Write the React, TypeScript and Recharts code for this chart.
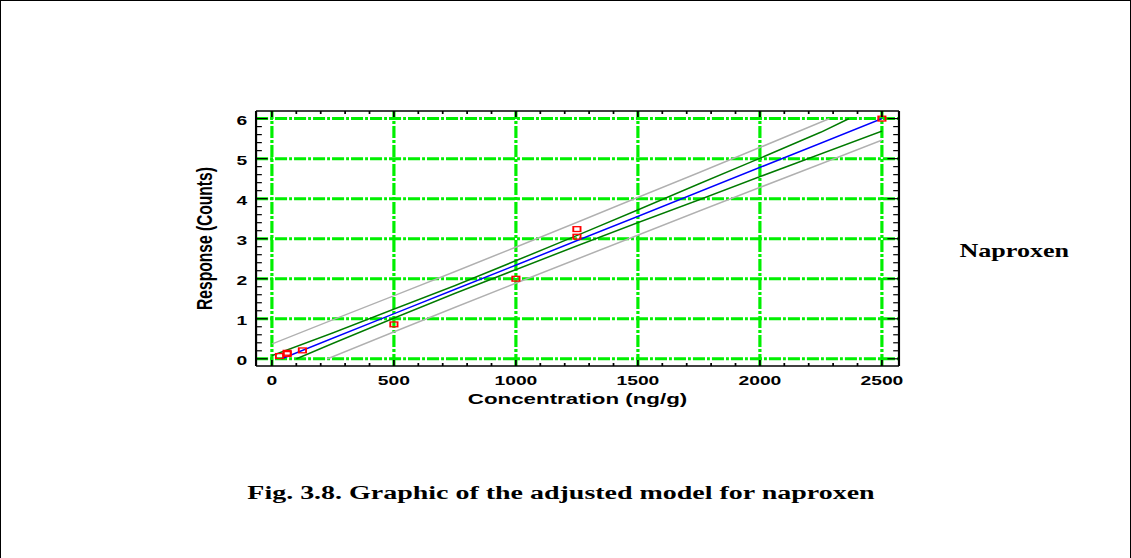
import React from 'react';
import { ComposedChart, Line, Scatter, XAxis, YAxis, ReferenceLine } from 'recharts';

// Calibration standards: concentration (ng/g) and measured response (counts)
const concentration = [31.25, 62.5, 62.5, 125, 500, 1000, 1250, 1250, 2500];
const response = [0.07, 0.12, 0.15, 0.21, 0.86, 2.0, 3.24, 3.05, 6.0];

// Fitted model line
const fitX = [39, 250, 500, 750, 1000, 1250, 1500, 1750, 2000, 2250, 2500];
const fitY = [0, 0.515, 1.125, 1.734, 2.34, 2.95, 3.56, 4.17, 4.78, 5.39, 6.0];

// Confidence limits for the mean response
const confUpperX = [0, 250, 500, 750, 1000, 1250, 1500, 1750, 2000, 2250, 2365];
const confUpperY = [0.08, 0.65, 1.24, 1.83, 2.45, 3.08, 3.72, 4.37, 5.01, 5.66, 6.0];
const confLowerX = [100, 250, 500, 750, 1000, 1250, 1500, 1750, 2000, 2250, 2500];
const confLowerY = [0, 0.385, 1.015, 1.634, 2.23, 2.82, 3.4, 3.97, 4.55, 5.12, 5.69];

// Prediction limits
const predUpperX = [0, 250, 500, 750, 1000, 1250, 1500, 1750, 2000, 2250, 2285];
const predUpperY = [0.37, 0.975, 1.575, 2.18, 2.79, 3.41, 4.03, 4.65, 5.28, 5.91, 6.0];
const predLowerX = [227, 250, 500, 750, 1000, 1250, 1500, 1750, 2000, 2250, 2500];
const predLowerY = [0, 0.055, 0.675, 1.284, 1.89, 2.49, 3.09, 3.69, 4.28, 4.87, 5.46];

// Axis ticks
const xMajorTicks = [0, 500, 1000, 1500, 2000, 2500];
const yMajorTicks = [0, 1, 2, 3, 4, 5, 6];
const xTicks = [
  0, 100, 200, 300, 400, 500, 600, 700, 800, 900, 1000, 1100, 1200, 1300, 1400,
  1500, 1600, 1700, 1800, 1900, 2000, 2100, 2200, 2300, 2400, 2500,
];
const yTicks = [
  0, 0.2, 0.4, 0.6, 0.8, 1, 1.2, 1.4, 1.6, 1.8, 2, 2.2, 2.4, 2.6, 2.8, 3, 3.2, 3.4,
  3.6, 3.8, 4, 4.2, 4.4, 4.6, 4.8, 5, 5.2, 5.4, 5.6, 5.8, 6,
];

const X_DOMAIN: [number, number] = [-65, 2570];
const Y_DOMAIN: [number, number] = [-0.18, 6.19];

const toPoints = (xs: number[], ys: number[]) => xs.map((x, i) => ({ x, y: ys[i] }));

const observed = toPoints(concentration, response);
const fit = toPoints(fitX, fitY);
const confUpper = toPoints(confUpperX, confUpperY);
const confLower = toPoints(confLowerX, confLowerY);
const predUpper = toPoints(predUpperX, predUpperY);
const predLower = toPoints(predLowerX, predLowerY);

// The figure is laid out on a narrower canvas and stretched horizontally
const STRETCH = 1.45;
const BASE_W = 1131 / STRETCH;
const H = 558;

const axisFont = "'Liberation Sans', Arial, Helvetica, sans-serif";
const serifFont = "'Liberation Serif', 'Times New Roman', serif";

const isMajorX = (v: number) => xMajorTicks.includes(v);
const isMajorY = (v: number) => yMajorTicks.some((m) => Math.abs(m - v) < 1e-6);

const BottomTick = (props: any) => {
  const { x, y, payload } = props;
  const v = payload.value;
  const major = isMajorX(v);
  return (
    <g>
      <line x1={x} x2={x} y1={y} y2={y - (major ? 6 : 3)} stroke="#000" strokeWidth={1.2} />
      {major && (
        <text x={x} y={y + 19} textAnchor="middle" fontFamily={axisFont} fontWeight="bold" fontSize={13.3} fill="#000">
          {v}
        </text>
      )}
    </g>
  );
};

const TopTick = (props: any) => {
  const { x, y, payload } = props;
  const major = isMajorX(payload.value);
  return <line x1={x} x2={x} y1={y} y2={y + (major ? 6 : 3)} stroke="#000" strokeWidth={1.2} />;
};

const LeftTick = (props: any) => {
  const { x, y, payload } = props;
  const v = payload.value;
  const major = isMajorY(v);
  return (
    <g>
      <line x1={x} x2={x + (major ? 8 : 4)} y1={y} y2={y} stroke="#000" strokeWidth={1.2} />
      {major && (
        <text x={x - 6} y={y + 6} textAnchor="end" fontFamily={axisFont} fontWeight="bold" fontSize={13.3} fill="#000">
          {Math.round(v)}
        </text>
      )}
    </g>
  );
};

const RightTick = (props: any) => {
  const { x, y, payload } = props;
  const major = isMajorY(payload.value);
  return <line x1={x} x2={x - (major ? 8 : 4)} y1={y} y2={y} stroke="#000" strokeWidth={1.2} />;
};

const RedSquare = (props: any) => {
  const { cx, cy } = props;
  if (cx == null || cy == null) return null;
  return <rect x={cx - 2.5} y={cy - 2.4} width={5} height={4.8} fill="none" stroke="#ff0000" strokeWidth={1.3} />;
};

const GRID_GREEN = '#00f000';

export default function App() {
  return (
    <div
      style={{
        position: 'absolute',
        left: 0,
        top: 0,
        width: 1131,
        height: H,
        boxSizing: 'border-box',
        borderLeft: '1px solid #000',
        borderTop: '1px solid #000',
        borderRight: '1px solid #000',
        background: '#fff',
        overflow: 'hidden',
      }}
    >
      <div
        style={{
          position: 'absolute',
          left: 0,
          top: 0,
          width: BASE_W,
          height: H,
          transform: `scaleX(${STRETCH})`,
          transformOrigin: '0 0',
        }}
      >
        <ComposedChart
          width={BASE_W}
          height={H}
          margin={{ top: 100, right: 150.7, bottom: 163, left: 135.9 }}
        >
          <XAxis
            dataKey="x"
            type="number"
            domain={X_DOMAIN}
            allowDataOverflow
            ticks={xTicks}
            interval={0}
            tickSize={0}
            tickMargin={0}
            tickLine={false}
            axisLine={{ stroke: '#000', strokeWidth: 1.5 }}
            height={30}
            tick={<BottomTick />}
          />
          <XAxis
            xAxisId="top"
            orientation="top"
            dataKey="x"
            type="number"
            domain={X_DOMAIN}
            allowDataOverflow
            ticks={xTicks}
            interval={0}
            tickSize={0}
            tickMargin={0}
            tickLine={false}
            axisLine={{ stroke: '#000', strokeWidth: 1.3 }}
            height={10}
            tick={<TopTick />}
          />
          <YAxis
            dataKey="y"
            type="number"
            domain={Y_DOMAIN}
            allowDataOverflow
            ticks={yTicks}
            interval={0}
            tickSize={0}
            tickMargin={0}
            tickLine={false}
            axisLine={{ stroke: '#000', strokeWidth: 1.5 }}
            width={40}
            tick={<LeftTick />}
          />
          <YAxis
            yAxisId="right"
            orientation="right"
            dataKey="y"
            type="number"
            domain={Y_DOMAIN}
            allowDataOverflow
            ticks={yTicks}
            interval={0}
            tickSize={0}
            tickMargin={0}
            tickLine={false}
            axisLine={{ stroke: '#000', strokeWidth: 1.5 }}
            width={10}
            tick={<RightTick />}
          />

          {yMajorTicks.map((v) => (
            <ReferenceLine
              key={`h${v}`}
              y={v}
              stroke={GRID_GREEN}
              strokeWidth={3}
              strokeDasharray="8.3 1.4 2 1.4"
            />
          ))}
          {xMajorTicks.map((v) => (
            <ReferenceLine
              key={`v${v}`}
              x={v}
              stroke={GRID_GREEN}
              strokeWidth={2.2}
              strokeDasharray="12 2 3 2"
            />
          ))}

          <Line data={predUpper} dataKey="y" type="linear" stroke="#b0b0b0" strokeWidth={1.4} dot={false} activeDot={false} isAnimationActive={false} />
          <Line data={predLower} dataKey="y" type="linear" stroke="#b0b0b0" strokeWidth={1.4} dot={false} activeDot={false} isAnimationActive={false} />
          <Line data={confUpper} dataKey="y" type="linear" stroke="#007a00" strokeWidth={1.4} dot={false} activeDot={false} isAnimationActive={false} />
          <Line data={confLower} dataKey="y" type="linear" stroke="#007a00" strokeWidth={1.4} dot={false} activeDot={false} isAnimationActive={false} />
          <Line data={fit} dataKey="y" type="linear" stroke="#0000ff" strokeWidth={1.4} dot={false} activeDot={false} isAnimationActive={false} />
          <Scatter data={observed} dataKey="y" shape={<RedSquare />} isAnimationActive={false} />
        </ComposedChart>

        <svg
          width={BASE_W}
          height={H}
          style={{ position: 'absolute', left: 0, top: 0, pointerEvents: 'none' }}
        >
          <text
            x={397.6}
            y={403}
            textAnchor="middle"
            fontFamily={axisFont}
            fontWeight="bold"
            fontSize={15.4}
            fill="#000"
          >
            Concentration (ng/g)
          </text>
          <text
            transform="translate(145.5 237.5) rotate(-90)"
            textAnchor="middle"
            fontFamily={axisFont}
            fontWeight="bold"
            fontSize={15.6}
            fill="#000"
          >
            Response (Counts)
          </text>
          <text x={661} y={256} fontFamily={serifFont} fontWeight="bold" fontSize={18} fill="#000">
            Naproxen
          </text>
          <text x={386.2} y={498} textAnchor="middle" fontFamily={serifFont} fontWeight="bold" fontSize={19.3} fill="#000">
            Fig. 3.8. Graphic of the adjusted model for naproxen
          </text>
        </svg>
      </div>
    </div>
  );
}
